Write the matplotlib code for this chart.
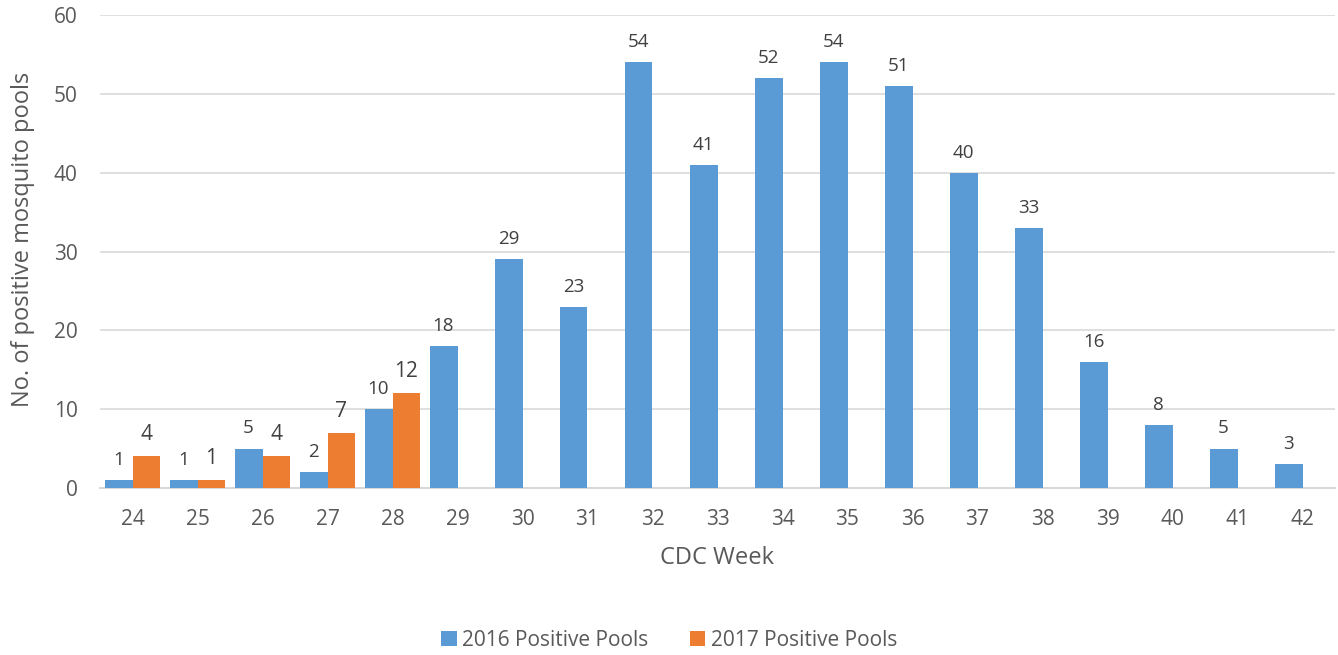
import matplotlib
matplotlib.use("Agg")
import matplotlib.pyplot as plt
import numpy as np

weeks = ["24", "25", "26", "27", "28", "29", "30", "31", "32", "33",
         "34", "35", "36", "37", "38", "39", "40", "41", "42"]
pools_2016 = [1, 1, 5, 2, 10, 18, 29, 23, 54, 41, 52, 54, 51, 40, 33, 16, 8, 5, 3]
pools_2017 = [4, 1, 4, 7, 12]
series_names = ["2016 Positive Pools", "2017 Positive Pools"]

plt.rcParams['font.family'] = ['Open Sans', 'DejaVu Sans']
txt = "#595959"

fig = plt.figure(figsize=(13.38, 6.55), dpi=100)
ax = fig.add_axes([100/1338, 1-488/655, 1235/1338, 473/655])

x = np.arange(len(weeks))
w = 0.43
off = 0.215
b1 = ax.bar(x - off, pools_2016, width=w, color="#5B9BD5", label=series_names[0], zorder=3)
x2 = np.arange(len(pools_2017))
b2 = ax.bar(x2 + off, pools_2017, width=w, color="#ED7D31", label=series_names[1], zorder=3)

for xi, v in zip(x - off, pools_2016):
    ax.annotate(str(v), (xi, v), xytext=(0, 8), textcoords="offset points",
                ha="center", va="bottom", fontsize=13.5, color="#404040")
for xi, v in zip(x2 + off, pools_2017):
    ax.annotate(str(v), (xi, v), xytext=(0, 8), textcoords="offset points",
                ha="center", va="bottom", fontsize=15, color="#404040")

ax.set_xlim(-0.5, len(weeks) - 0.5)
ax.set_ylim(0, 60)
ax.set_yticks(range(0, 61, 10))
ax.set_xticks(x)
ax.set_xticklabels(weeks)
ax.grid(axis="y", color="#d9d9d9", linewidth=1.2, zorder=0)
for s in ["top", "right", "left"]:
    ax.spines[s].set_visible(False)
ax.spines["bottom"].set_color("#d9d9d9")
ax.spines["bottom"].set_linewidth(1.5)
ax.tick_params(axis="both", length=0, labelsize=15, colors=txt)
ax.tick_params(axis="x", pad=15)
ax.tick_params(axis="y", pad=16)
ax.set_xlabel("CDC Week", fontsize=17, color=txt)
ax.set_ylabel("No. of positive mosquito pools", fontsize=17, color=txt)
ax.xaxis.set_label_coords(0.5, -0.148)
ax.yaxis.set_label_coords(-0.062, 0.526)
ax.xaxis.label.set_va("center")
ax.yaxis.label.set_va("center")

fig.legend(handles=[b1, b2], labels=series_names, loc="center", bbox_to_anchor=(0.5, 1-640/655),
           ncol=2, frameon=False, fontsize=15, labelcolor=txt, handlelength=0.75,
           handleheight=0.75, handletextpad=0.25, columnspacing=2.0)

fig.savefig("out.png", dpi=100)
